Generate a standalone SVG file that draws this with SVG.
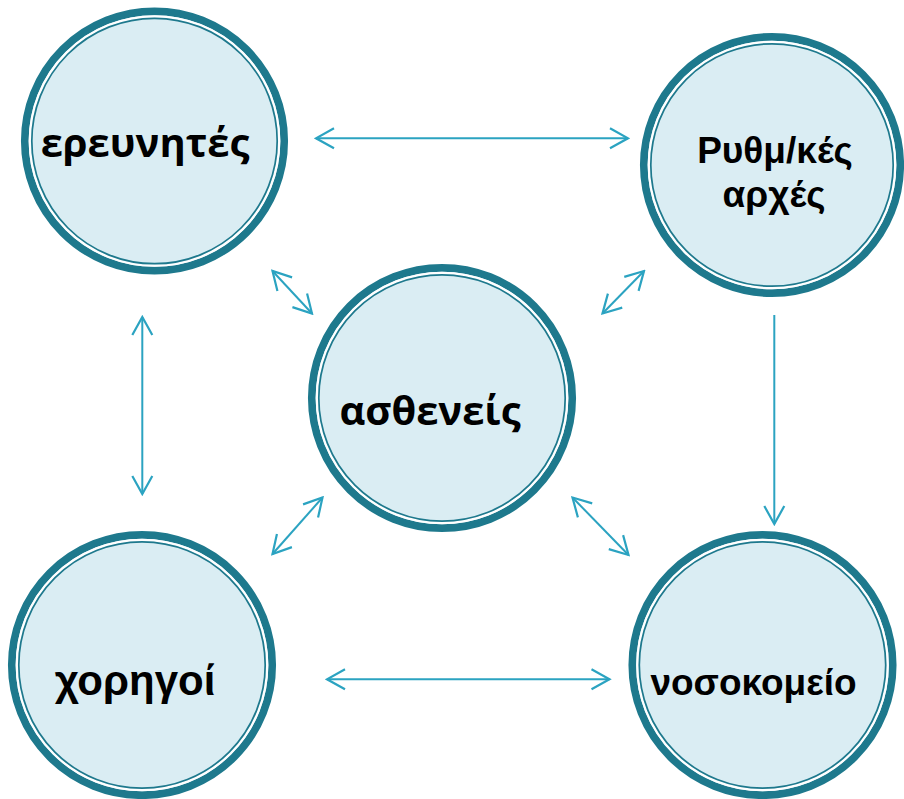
<svg xmlns="http://www.w3.org/2000/svg" width="904" height="799" viewBox="0 0 904 799">
<defs>
<style>
.ring{fill:#DAEDF3;stroke:#1E798D;stroke-width:7.7}
.gap{fill:none;stroke:#FFFFFF;stroke-width:2.3}
.thin{fill:none;stroke:#1E798D;stroke-width:1.7}
.lbl{font-weight:bold;fill:#000;text-anchor:middle}
.os{font-family:"Open Sans","Noto Sans","DejaVu Sans",sans-serif;font-size:40px}
.ar{font-family:"Liberation Sans",Arial,sans-serif;font-size:37px}
.conn line{stroke:#2BA3C1;stroke-width:2;fill:none}
</style>
<marker id="ah" markerUnits="userSpaceOnUse" viewBox="-20 -12 22 24" refX="0" refY="0" markerWidth="22" markerHeight="24" orient="auto-start-reverse">
<path d="M -18 -10 L 0 0 L -18 10" fill="none" stroke="#2BA3C1" stroke-width="2.2"/>
</marker>
</defs>
<rect width="904" height="799" fill="#FFFFFF"/>
<g id="connectors" class="conn">
<line x1="316" y1="138.3" x2="628" y2="138.3" marker-start="url(#ah)" marker-end="url(#ah)"/>
<line x1="142.3" y1="317" x2="142.3" y2="494" marker-start="url(#ah)" marker-end="url(#ah)"/>
<line x1="327" y1="679.3" x2="609.5" y2="679.3" marker-start="url(#ah)" marker-end="url(#ah)"/>
<line x1="774.3" y1="315" x2="774.3" y2="524" marker-end="url(#ah)"/>
<line x1="272.5" y1="271" x2="312" y2="313.5" marker-start="url(#ah)" marker-end="url(#ah)"/>
<line x1="602.5" y1="313.5" x2="644" y2="271" marker-start="url(#ah)" marker-end="url(#ah)"/>
<line x1="272.5" y1="554" x2="322.5" y2="497.5" marker-start="url(#ah)" marker-end="url(#ah)"/>
<line x1="572.5" y1="497.5" x2="628.5" y2="555" marker-start="url(#ah)" marker-end="url(#ah)"/>
</g>
<g id="node-ereunites">
<circle class="ring" cx="154.5" cy="141" r="129.7"/>
<circle class="gap" cx="154.5" cy="141" r="124.7"/>
<circle class="thin" cx="154.5" cy="141" r="122.7"/>
<text class="lbl os" x="145" y="157">ερευνητές</text>
</g>
<g id="node-rythmistikes">
<circle class="ring" cx="772" cy="165" r="128.2"/>
<circle class="gap" cx="772" cy="165" r="123.2"/>
<circle class="thin" cx="772" cy="165" r="121.2"/>
<text class="lbl ar" x="775" y="163">Ρυθμ/κές</text>
<text class="lbl ar" x="774" y="207">αρχές</text>
</g>
<g id="node-astheneis">
<circle class="ring" cx="442" cy="398" r="130.2"/>
<circle class="gap" cx="442" cy="398" r="125.2"/>
<circle class="thin" cx="442" cy="398" r="123.2"/>
<text class="lbl os" x="430" y="425">ασθενείς</text>
</g>
<g id="node-chorigoi">
<circle class="ring" cx="142" cy="665" r="130.2"/>
<circle class="gap" cx="142" cy="665" r="125.2"/>
<circle class="thin" cx="142" cy="665" r="123.2"/>
<text class="lbl ar" x="135" y="695" style="font-size:42px">χορηγοί</text>
</g>
<g id="node-nosokomeio">
<circle class="ring" cx="762.5" cy="665" r="130.2"/>
<circle class="gap" cx="762.5" cy="665" r="125.2"/>
<circle class="thin" cx="762.5" cy="665" r="123.2"/>
<text class="lbl ar" x="753.5" y="695">νοσοκομείο</text>
</g>
</svg>
